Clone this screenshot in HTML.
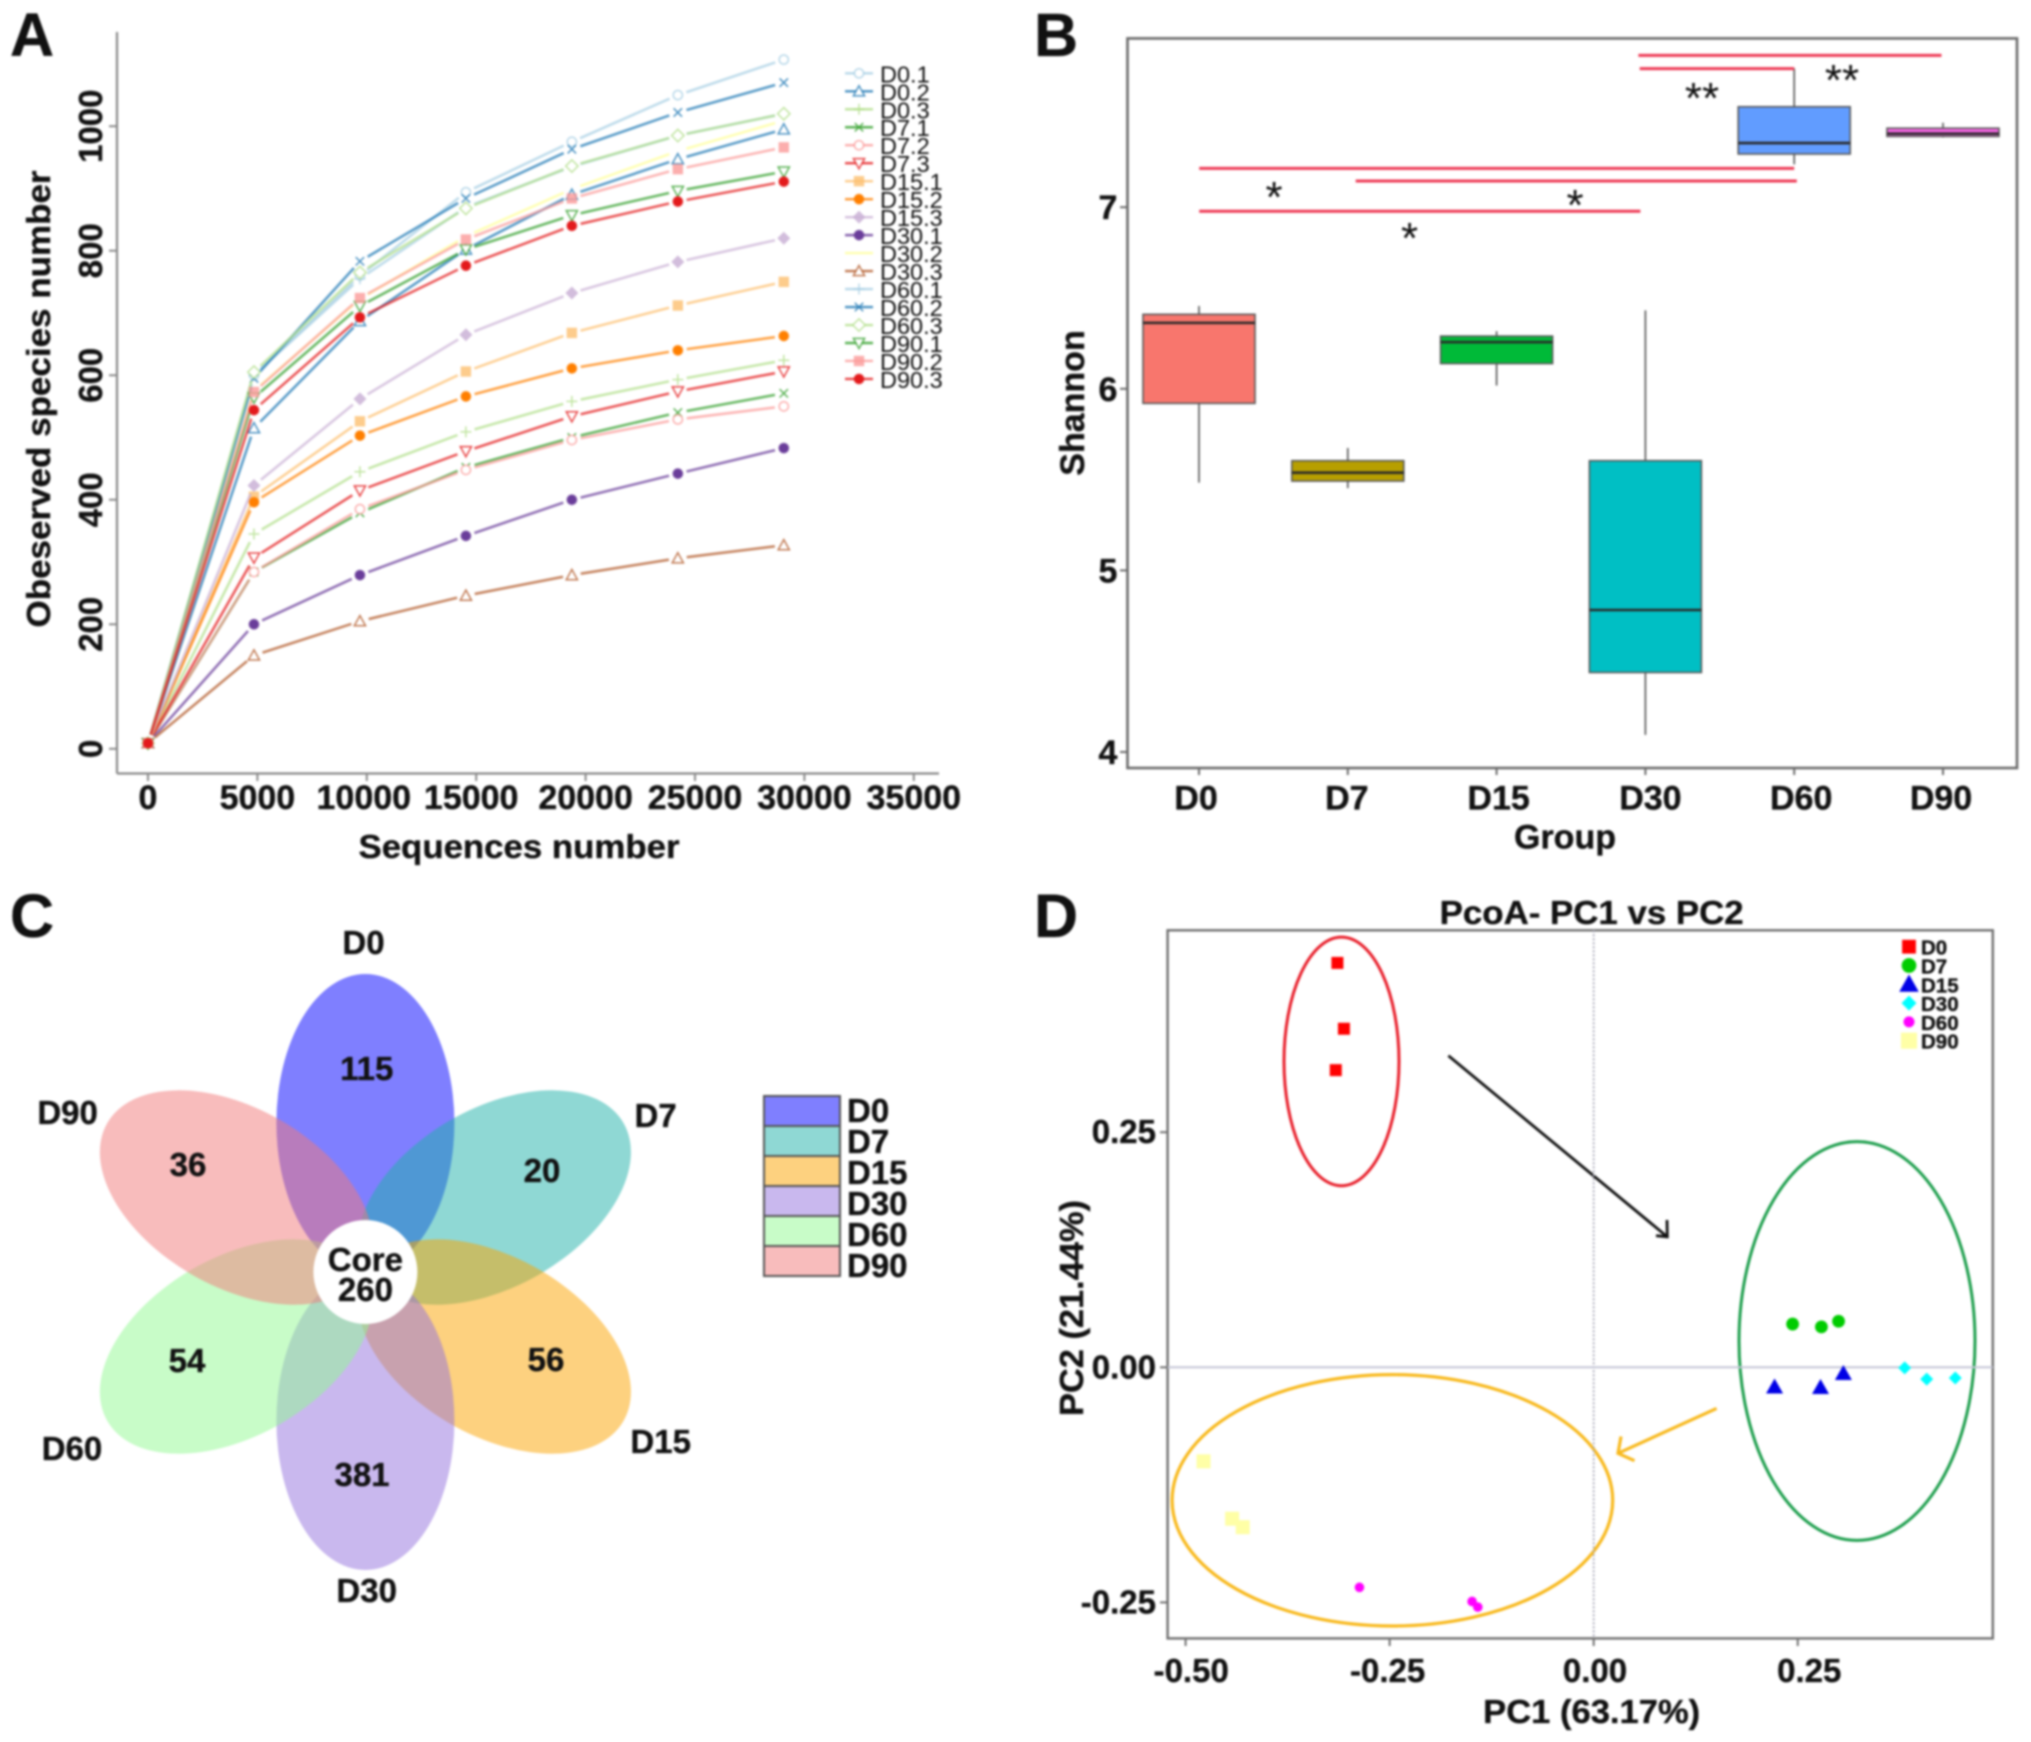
<!DOCTYPE html>
<html lang="en">
<head>
<meta charset="utf-8">
<title>Microbiome diversity figure</title>
<style>
html,body{margin:0;padding:0;background:#fff;}
svg{display:block;filter:blur(1px);}
text{font-family:"Liberation Sans",Arial,sans-serif;fill:#111;}
.b{font-weight:bold;stroke:#111;stroke-width:.35px;}
</style>
</head>
<body>
<svg id="fig" xmlns="http://www.w3.org/2000/svg" width="2031" height="1742" viewBox="0 0 2031 1742">
  <rect width="2031" height="1742" fill="#fff"/>
  <text class="b" x="10" y="56" font-size="61">A</text>
  <text class="b" x="1034" y="56" font-size="61">B</text>
  <text class="b" x="10" y="937" font-size="61">C</text>
  <text class="b" x="1034" y="937" font-size="61">D</text>

  <g id="panelA">
    <line x1="117" y1="32" x2="117" y2="773.5" stroke="#8a8a8a" stroke-width="2.2"/>
    <line x1="117" y1="773.5" x2="939" y2="773.5" stroke="#8a8a8a" stroke-width="2.2"/>
    <text class="b" transform="translate(50,399) rotate(-90)" text-anchor="middle" font-size="33" textLength="457" lengthAdjust="spacingAndGlyphs">Obeserved species number</text>
    <text class="b" x="519" y="858" text-anchor="middle" font-size="33" textLength="321" lengthAdjust="spacingAndGlyphs">Sequences number</text>
  </g>

  <g id="panelB">
    <rect x="1127.5" y="38.4" width="889.5" height="729.6" fill="none" stroke="#6b6b6b" stroke-width="2.6"/>
    <text class="b" transform="translate(1084,403) rotate(-90)" text-anchor="middle" font-size="34">Shannon</text>
    <text class="b" x="1565" y="848.5" text-anchor="middle" font-size="34">Group</text>
  </g>

  <g id="panelC">
    <ellipse cx="365.4" cy="1123" rx="89" ry="149" fill="#0000ff" fill-opacity=".5" transform="rotate(0 365.4 1272)"/>
    <ellipse cx="365.4" cy="1123" rx="89" ry="149" fill="#1fb1a9" fill-opacity=".5" transform="rotate(60 365.4 1272)"/>
    <ellipse cx="365.4" cy="1123" rx="89" ry="149" fill="#fba300" fill-opacity=".5" transform="rotate(120 365.4 1272)"/>
    <ellipse cx="365.4" cy="1123" rx="89" ry="149" fill="#9371dd" fill-opacity=".5" transform="rotate(180 365.4 1272)"/>
    <ellipse cx="365.4" cy="1123" rx="89" ry="149" fill="#91f991" fill-opacity=".5" transform="rotate(240 365.4 1272)"/>
    <ellipse cx="365.4" cy="1123" rx="89" ry="149" fill="#f17979" fill-opacity=".5" transform="rotate(300 365.4 1272)"/>
    <circle cx="365.4" cy="1272" r="52" fill="#fff"/>
    <g font-size="33" text-anchor="middle">
      <text class="b" x="365.4" y="1271">Core</text>
      <text class="b" x="365.4" y="1301">260</text>
      <text class="b" x="366.7" y="1080">115</text>
      <text class="b" x="188" y="1176">36</text>
      <text class="b" x="542" y="1182">20</text>
      <text class="b" x="187" y="1372">54</text>
      <text class="b" x="546" y="1371">56</text>
      <text class="b" x="362" y="1486">381</text>
      <text class="b" x="363.5" y="954">D0</text>
      <text class="b" x="67.6" y="1124">D90</text>
      <text class="b" x="655.6" y="1127">D7</text>
      <text class="b" x="72" y="1460">D60</text>
      <text class="b" x="660.7" y="1453">D15</text>
      <text class="b" x="366.7" y="1602">D30</text>
    </g>
    <g id="vennLegend"></g>
  </g>

  <g id="panelD">
    <rect x="1167.6" y="930.3" width="825.2" height="708.1" fill="none" stroke="#707070" stroke-width="2.4"/>
    <text class="b" x="1591.7" y="924" text-anchor="middle" font-size="33" textLength="304" lengthAdjust="spacingAndGlyphs">PcoA- PC1 vs PC2</text>
    <text class="b" x="1591.7" y="1723" text-anchor="middle" font-size="33" textLength="217" lengthAdjust="spacingAndGlyphs">PC1 (63.17%)</text>
    <text class="b" transform="translate(1083,1308) rotate(-90)" text-anchor="middle" font-size="33" textLength="216" lengthAdjust="spacingAndGlyphs">PC2 (21.44%)</text>
    <ellipse cx="1341.5" cy="1061.4" rx="57.5" ry="124.3" fill="none" stroke="#e8202c" stroke-width="3"/>
    <ellipse cx="1857" cy="1341" rx="118" ry="199.4" fill="none" stroke="#1f9f4e" stroke-width="3"/>
    <ellipse cx="1392.4" cy="1500.3" rx="220.3" ry="125.7" fill="none" stroke="#f8b91e" stroke-width="3.2"/>
    <path d="M1448.4 1055.7L1667.3 1236.8M1667 1220L1667.3 1236.8L1656 1235.7" fill="none" stroke="#111" stroke-width="2.8"/>
    <path d="M1716.6 1408.4L1618 1453.3M1621 1436.5L1618 1453.3L1634.5 1460.7" fill="none" stroke="#f8b91e" stroke-width="3.2"/>
  </g>
</svg>

<script>
// ---------- Panel A data ----------
const seqDepths = [0, 4843, 9686, 14529, 19372, 24215, 29058];
const seqTicks = [0, 5000, 10000, 15000, 20000, 25000, 30000, 35000];
const speciesTicks = [0, 200, 400, 600, 800, 1000];
const seriesNames = ["D0.1","D0.2","D0.3","D7.1","D7.2","D7.3","D15.1","D15.2","D15.3","D30.1","D30.2","D30.3","D60.1","D60.2","D60.3","D90.1","D90.2","D90.3"];
const seriesD0_1 = [9, 600, 760, 894, 975, 1050, 1107];
const seriesD0_2 = [9, 515, 687, 802, 890, 947, 995];
const seriesD0_3 = [9, 345, 445, 509, 558, 593, 624];
const seriesD7_1 = [9, 284, 379, 452, 500, 540, 571];
const seriesD7_2 = [9, 284, 385, 448, 496, 529, 550];
const seriesD7_3 = [9, 307, 415, 478, 534, 574, 606];
const seriesD15_1 = [9, 405, 526, 606, 668, 712, 750];
const seriesD15_2 = [9, 396, 503, 566, 611, 640, 663];
const seriesD15_3 = [9, 423, 562, 665, 732, 782, 820];
const seriesD30_1 = [9, 200, 279, 342, 400, 442, 483];
const seriesD30_2 = [9, 575, 722, 823, 899, 960, 1009];
const seriesD30_3 = [9, 150, 205, 246, 279, 306, 327];
const seriesD60_1 = [9, 600, 755, 870, 935, 985, 1020];
const seriesD60_2 = [9, 595, 783, 884, 963, 1022, 1070];
const seriesD60_3 = [9, 605, 765, 868, 936, 985, 1020];
const seriesD90_1 = [9, 564, 711, 802, 857, 896, 927];
const seriesD90_2 = [9, 573, 724, 818, 884, 931, 966];
const seriesD90_3 = [9, 544, 693, 776, 840, 879, 911];
const allSeries = [seriesD0_1, seriesD0_2, seriesD0_3, seriesD7_1, seriesD7_2, seriesD7_3, seriesD15_1, seriesD15_2, seriesD15_3, seriesD30_1, seriesD30_2, seriesD30_3, seriesD60_1, seriesD60_2, seriesD60_3, seriesD90_1, seriesD90_2, seriesD90_3];

// ---------- Panel B data ----------
const boxGroups = ["D0","D7","D15","D30","D60","D90"];
const boxWhiskerHigh = [6.456, 5.674, 6.317, 6.432, 7.764, 7.465];
const boxQ3 = [6.41, 5.604, 6.29, 5.604, 7.553, 7.435];
const boxMedian = [6.363, 5.538, 6.257, 4.782, 7.353, 7.405];
const boxQ1 = [5.92, 5.492, 6.139, 4.438, 7.293, 7.39];
const boxWhiskerLow = [5.483, 5.453, 6.018, 4.094, 7.236, 7.384];
const shannonTicks = [4, 5, 6, 7];

// ---------- Panel C legend data ----------
const vennGroups = ["D0","D7","D15","D30","D60","D90"];

// ---------- Panel D data ----------
const pcoaGroups = ["D0","D7","D15","D30","D60","D90"];
const pc1D0 = [-0.314, -0.306, -0.316];
const pc2D0 = [0.430, 0.360, 0.316];
const pc1D7 = [0.2437, 0.279, 0.300];
const pc2D7 = [0.046, 0.043, 0.049];
const pc1D15 = [0.2216, 0.2779, 0.3059];
const pc2D15 = [-0.021, -0.0215, -0.0066];
const pc1D30 = [0.381, 0.408, 0.443];
const pc2D30 = [-0.0006, -0.0126, -0.0114];
const pc1D60 = [-0.287, -0.149, -0.142];
const pc2D60 = [-0.234, -0.249, -0.255];
const pc1D90 = [-0.478, -0.443, -0.430];
const pc2D90 = [-0.100, -0.161, -0.170];
const pc1All = [pc1D0, pc1D7, pc1D15, pc1D30, pc1D60, pc1D90];
const pc2All = [pc2D0, pc2D7, pc2D15, pc2D30, pc2D60, pc2D90];
const pc1Ticks = [-0.5, -0.25, 0, 0.25];
const pc1TickLabels = ["-0.50", "-0.25", "0.00", "0.25"];
const pc2Ticks = [0.25, 0, -0.25];
const pc2TickLabels = ["0.25", "0.00", "-0.25"];

// ---------- styles ----------
const paired = ["#a6cee3","#1f78b4","#b2df8a","#33a02c","#fb9a99","#e31a1c","#fdbf6f","#ff7f00","#cab2d6","#6a3d9a","#ffff99","#b15928","#a6cee3","#1f78b4","#b2df8a","#33a02c","#fb9a99","#e31a1c"];
const seriesMarks = ["oc","ot","plus","x","oc","otd","fs","fc","fd","fc","none","ot","plus","x","od","otd","fs","fc"];
const boxFills = ["#f8766d","#b79f00","#00ba38","#00bfc4","#619cff","#f564e3"];
const vennFills = ["#7f7fff","#8fd8d4","#fdd17f","#c9b8ee","#c8fcc8","#f8bcbc"];
const pcoaColors = ["#ff0000","#00cc00","#0000e6","#00ffff","#ff00ff","#ffffa6"];
const pcoaShapes = ["square","circle","triangle","diamond","dot","bigsquare"];
const seqLabelNudge = [0, 0, -3, -5, 0, 0, 0, 0];
const boxLabelNudge = [-3, -1, 2, 5, 7, -2];
const pc1LabelNudge = [5.6, -2, 1.3, 11.5];

const NS = "http://www.w3.org/2000/svg";
function mk(tag, attrs, parent) {
  const el = document.createElementNS(NS, tag);
  for (const k in attrs) el.setAttribute(k, attrs[k]);
  parent.appendChild(el);
  return el;
}
function label(parent, x, y, str, size, anchor, bold) {
  const el = mk("text", {x: x, y: y, "font-size": size, "text-anchor": anchor}, parent);
  if (bold) el.setAttribute("class", "b");
  el.textContent = str;
  return el;
}

// ---------- Panel A ----------
const panelA = document.getElementById("panelA");
const axA = v => 148 + v * 0.02188;
const ayA = v => 748.8 - v * 0.6226;

function markerA(parent, type, x, y, color) {
  const base = {stroke: color, "stroke-width": 1.5, "stroke-opacity": .8};
  if (type === "oc") return mk("circle", Object.assign({cx: x, cy: y, r: 4.6, fill: "#fff"}, base), parent);
  if (type === "fc") return mk("circle", Object.assign({cx: x, cy: y, r: 4.6, fill: color}, base), parent);
  if (type === "fs") return mk("rect", {x: x - 5.2, y: y - 5.2, width: 10.4, height: 10.4, fill: color, opacity: .8}, parent);
  if (type === "ot") return mk("path", Object.assign({d: `M${x} ${y-5.6}L${x+5.6} ${y+4.6}L${x-5.6} ${y+4.6}Z`, fill: "#fff"}, base), parent);
  if (type === "otd") return mk("path", Object.assign({d: `M${x} ${y+5.6}L${x+5.6} ${y-4.6}L${x-5.6} ${y-4.6}Z`, fill: "#fff"}, base), parent);
  if (type === "plus") return mk("path", Object.assign({d: `M${x-5.5} ${y}H${x+5.5}M${x} ${y-5.5}V${y+5.5}`, fill: "none"}, base), parent);
  if (type === "x") return mk("path", Object.assign({d: `M${x-4.2} ${y-4.2}L${x+4.2} ${y+4.2}M${x+4.2} ${y-4.2}L${x-4.2} ${y+4.2}`, fill: "none"}, base), parent);
  if (type === "fd") return mk("path", {d: `M${x} ${y-6.5}L${x+6.5} ${y}L${x} ${y+6.5}L${x-6.5} ${y}Z`, fill: color, opacity: .85}, parent);
  if (type === "od") return mk("path", Object.assign({d: `M${x} ${y-6.2}L${x+6.2} ${y}L${x} ${y+6.2}L${x-6.2} ${y}Z`, fill: "#fff"}, base), parent);
  return mk("g", {}, parent);
}

seqTicks.forEach((t, i) => {
  const tick = mk("line", {x1: axA(t), x2: axA(t), y1: 773.5, y2: 781, stroke: "#8a8a8a", "stroke-width": 2}, panelA);
  
  
  const lab = label(panelA, axA(t) + seqLabelNudge[i], 809, String(t), 34, "middle", true);
  
  
});
speciesTicks.forEach(t => {
  const tick = mk("line", {x1: 109, x2: 117, y1: ayA(t), y2: ayA(t), stroke: "#8a8a8a", "stroke-width": 2}, panelA);
  
  
  const lab = mk("text", {transform: `translate(102,${ayA(t)}) rotate(-90)`, "font-size": 33, "text-anchor": "middle", class: "b"}, panelA);
  lab.textContent = String(t);
  
  
});

allSeries.forEach((vals, s) => {
  const g = mk("g", {}, panelA);
  
  
  const color = paired[s];
  for (let i = 0; i < vals.length - 1; i++) {
    const x1 = axA(seqDepths[i]), y1 = ayA(vals[i]);
    const x2 = axA(seqDepths[i + 1]), y2 = ayA(vals[i + 1]);
    const len = Math.hypot(x2 - x1, y2 - y1);
    const gap = 9 / len;
    const seg = mk("line", {
      x1: x1 + (x2 - x1) * gap, y1: y1 + (y2 - y1) * gap,
      x2: x2 - (x2 - x1) * gap, y2: y2 - (y2 - y1) * gap,
      stroke: color, "stroke-width": 2.6, "stroke-opacity": .72
    }, g);
    
    
  }
  vals.forEach((v, i) => {
    const m = markerA(g, seriesMarks[s], axA(seqDepths[i]), ayA(v), color);
    
    
  });
});

const aLegend = mk("g", {}, panelA);


seriesNames.forEach((n, i) => {
  const yy = 73.3 + i * 17.98;
  const ln = mk("line", {x1: 845, x2: 873, y1: yy, y2: yy, stroke: paired[i], "stroke-width": 2.4, "stroke-opacity": .8}, aLegend);
  
  
  const mm = markerA(aLegend, seriesMarks[i], 859, yy, paired[i]);
  
  
  const tt = label(aLegend, 880, yy + 9, n, 23.5, "start", false);
  
  
});

// ---------- Panel B ----------
const panelB = document.getElementById("panelB");
const bxB = i => 1199 + i * 148.8;
const byB = v => 752 - (v - 4) * 181.6;
shannonTicks.forEach(t => {
  const tick = mk("line", {x1: 1120, x2: 1127.5, y1: byB(t), y2: byB(t), stroke: "#6b6b6b", "stroke-width": 2}, panelB);
  
  
  const lab = label(panelB, 1108, byB(t) + 12, String(t), 34, "middle", true);
  
  
});
boxGroups.forEach((name, i) => {
  const cx = bxB(i);
  const tick = mk("line", {x1: cx, x2: cx, y1: 768, y2: 775, stroke: "#6b6b6b", "stroke-width": 2}, panelB);
  
  
  const lab = label(panelB, cx + boxLabelNudge[i], 809.5, name, 34, "middle", true);
  
  
  const whisker = mk("line", {x1: cx, x2: cx, y1: byB(boxWhiskerHigh[i]), y2: byB(boxWhiskerLow[i]), stroke: "#555", "stroke-width": 1.6}, panelB);
  
  
  const box = mk("rect", {x: cx - 56, width: 112, y: byB(boxQ3[i]), height: byB(boxQ1[i]) - byB(boxQ3[i]), fill: boxFills[i], stroke: "#5a5a5a", "stroke-width": 1.6}, panelB);
  
  
  const med = mk("line", {x1: cx - 56, x2: cx + 56, y1: byB(boxMedian[i]), y2: byB(boxMedian[i]), stroke: "#2a2a2a", "stroke-width": 2.6}, panelB);
  
  
});

const sigLines = [
  [1638.4, 1941.5, 55.4], [1639.7, 1794.2, 68.6], [1199.2, 1794.2, 168.4],
  [1355.7, 1796.8, 181], [1199.2, 1640.4, 211.2]
];
sigLines.forEach(r => {
  const ln = mk("line", {x1: r[0], x2: r[1], y1: r[2], y2: r[2], stroke: "#ee3a55", "stroke-width": 3}, panelB);
  
  
});
const sigStars = [[1842, 68, "**"], [1702, 86, "**"], [1274, 185, "*"], [1575, 193, "*"], [1409.6, 226, "*"]];
sigStars.forEach(r => {
  const st = label(panelB, r[0], r[1] + 27, r[2], 44, "middle", false);
  
  
});

// ---------- Panel C legend ----------
const vennLegend = document.getElementById("vennLegend");
vennGroups.forEach((n, i) => {
  const yy = 1096 + i * 30;
  const sw = mk("rect", {x: 764, y: yy, width: 76, height: 30, fill: vennFills[i], stroke: "#555", "stroke-width": 2}, vennLegend);
  
  
  const tt = label(vennLegend, 847, 1122 + i * 31, n, 33, "start", true);
  
  
});

// ---------- Panel D ----------
const panelD = document.getElementById("panelD");
const dx = v => 1593.7 + v * 816.2;
const dy = v => 1367.3 - v * 940.4;
const zeroV = mk("line", {x1: dx(0), x2: dx(0), y1: 930.3, y2: 1638.4, stroke: "#a8a8b8", "stroke-width": 1.8, "stroke-dasharray": "2 2"}, panelD);


const zeroH = mk("line", {x1: 1167.6, x2: 1992.8, y1: dy(0), y2: dy(0), stroke: "#c4c6d6", "stroke-width": 2}, panelD);



pc1Ticks.forEach((t, i) => {
  const tick = mk("line", {x1: dx(t), x2: dx(t), y1: 1638.4, y2: 1646, stroke: "#707070", "stroke-width": 2}, panelD);
  
  
  const lab = label(panelD, dx(t) + pc1LabelNudge[i], 1682, pc1TickLabels[i], 33, "middle", true);
  
  
});
pc2Ticks.forEach((t, i) => {
  const tick = mk("line", {x1: 1160, x2: 1167.6, y1: dy(t), y2: dy(t), stroke: "#707070", "stroke-width": 2}, panelD);
  
  
  const lab = label(panelD, 1156, dy(t) + 11, pc2TickLabels[i], 33, "end", true);
  
  
});

function markerD(parent, shape, x, y, color, k) {
  if (shape === "square") return mk("rect", {x: x - 6 * k, y: y - 6 * k, width: 12 * k, height: 12 * k, fill: color}, parent);
  if (shape === "bigsquare") return mk("rect", {x: x - 7 * k, y: y - 7 * k, width: 14 * k, height: 14 * k, fill: color}, parent);
  if (shape === "circle") return mk("circle", {cx: x, cy: y, r: 6.4 * k, fill: color}, parent);
  if (shape === "dot") return mk("circle", {cx: x, cy: y, r: 4.8 * k, fill: color}, parent);
  if (shape === "triangle") return mk("path", {d: `M${x} ${y - 8.5 * k}L${x + 8.5 * k} ${y + 6.5 * k}L${x - 8.5 * k} ${y + 6.5 * k}Z`, fill: color}, parent);
  return mk("path", {d: `M${x} ${y - 6.5 * k}L${x + 6.5 * k} ${y}L${x} ${y + 6.5 * k}L${x - 6.5 * k} ${y}Z`, fill: color}, parent);
}
pcoaGroups.forEach((name, g) => {
  const grp = mk("g", {}, panelD);
  
  
  pc1All[g].forEach((v, i) => {
    const p = markerD(grp, pcoaShapes[g], dx(v), dy(pc2All[g][i]), pcoaColors[g], 1);
    
    
  });
  const yy = 946.7 + g * 18.8;
  const lm = markerD(panelD, pcoaShapes[g], 1909, yy, pcoaColors[g], 1.15);
  
  
  const lt = label(panelD, 1921, yy + 8, name, 20.5, "start", true);
  
  
});
</script>
</body>
</html>
